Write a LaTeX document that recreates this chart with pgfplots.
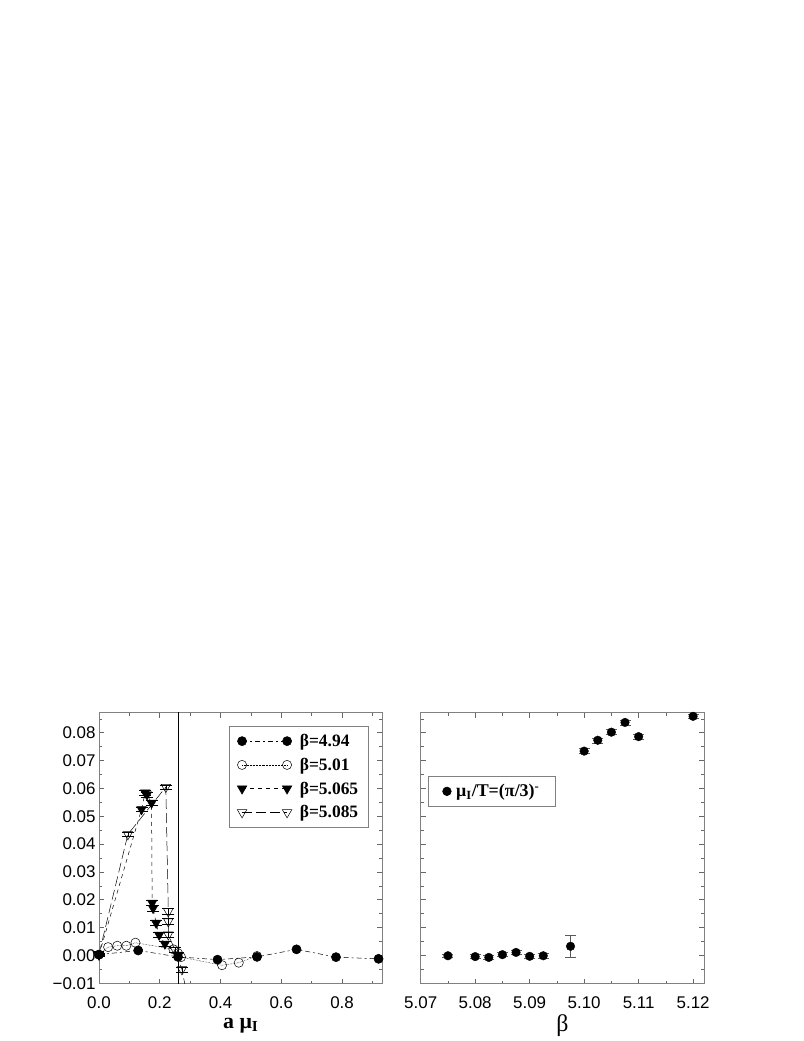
\documentclass[border=0pt]{standalone}
\usepackage{fontspec}
\setmainfont{Liberation Sans}
\newfontfamily\tms{Liberation Serif}
\usepackage{pgfplots}
\pgfplotsset{compat=1.18}
\pgfplotsset{
  mybase/.style={
    scale only axis, width=283.5bp, height=270.9bp,
    ymin=-0.0101, ymax=0.0872,
    ytick={-0.01,0,0.01,0.02,0.03,0.04,0.05,0.06,0.07,0.08},
    minor ytick={-0.005,0.005,0.015,0.025,0.035,0.045,0.055,0.065,0.075,0.085},
    tick align=inside, major tick length=5bp, minor tick length=3bp,
    axis line style={gray, line width=0.8pt},
    every tick/.style={gray!80!black, line width=0.6pt},
    every minor tick/.style={gray!80!black, line width=0.5pt},
    tick label style={font=\fontsize{17}{20}\selectfont},
    xticklabel style={yshift=-10bp},
    /pgf/number format/assume math mode=true,
    scaled ticks=false,
    clip=true,
  },
  legimg/.style={legend image code/.code={\draw[##1] plot coordinates {(0bp,0bp) (45bp,0bp)};}},
}
\begin{document}
\begin{tikzpicture}
\useasboundingbox (0,0) rectangle (804bp,1041bp);
\begin{axis}[mybase, at={(99bp,57.4bp)}, anchor=south west,
  xmin=0, xmax=0.933,
  xtick={0,0.2,0.4,0.6,0.8}, minor xtick={0.1,0.3,0.5,0.7,0.9},
  xticklabels={0.0,0.2,0.4,0.6,0.8},
  yticklabels={−0.01,0.00,0.01,0.02,0.03,0.04,0.05,0.06,0.07,0.08},
  xlabel={\tms\bfseries a μ\textsubscript{I}},
  xlabel style={at={(axis description cs:0.5,-0.155)}, anchor=center, font=\fontsize{22}{26}\selectfont},
  legend style={at={(0.4586,0.951)}, anchor=north west, draw=gray, line width=0.6pt,
    font=\tms\bfseries\fontsize{17.5}{20}\selectfont, row sep=6bp, inner xsep=8bp, inner ysep=6bp,
    /tikz/every odd column/.append style={column sep=6bp}},
  legend cell align=left, legimg,
  error bars/y dir=both, error bars/y explicit,
  error bars/error mark options={mark size=6bp, line width=0.5pt, rotate=90},
  error bars/error bar style={line width=0.5pt},
]
\addplot[black, line width=0.4pt, forget plot] coordinates {(0.2618,-0.02) (0.2618,0.1)};
% beta = 4.94
\addplot[black, line width=0.5pt, dash pattern=on 5bp off 3bp on 2bp off 3bp,
  mark=*, mark size=4.6bp, mark options={solid, fill=black}]
coordinates {
(0,0.0003)
(0.129,0.0018)
(0.26,-0.0005)
(0.39,-0.0015)
(0.52,-0.0005)
(0.65,0.0022)
(0.78,-0.0006)
(0.92,-0.0012)
};
\addlegendentry{β=4.94}
% beta = 5.01
\addplot[black, line width=0.5pt, densely dotted,
  mark=o, mark size=4.6bp, mark options={solid, fill=white}]
coordinates {
(0,0.0003)
(0.03,0.0030)
(0.06,0.0035)
(0.09,0.0035)
(0.12,0.0046)
(0.245,0.0022)
(0.26,0.0008)
(0.27,-0.0006)
(0.405,-0.0035)
(0.46,-0.0026)
(0.52,-0.0002)
};
\addlegendentry{β=5.01}
% beta = 5.065
\addplot[black, line width=0.5pt, dash pattern=on 4bp off 4bp,
  mark=triangle*, mark size=5.5bp, mark options={solid, fill=black, rotate=180}]
coordinates {
(0,0.0002) +- (0,0.0004)
(0.14,0.0525) +- (0,0.0008)
(0.152,0.0585) +- (0,0.0008)
(0.158,0.0578) +- (0,0.0008)
(0.173,0.0548) +- (0,0.0008)
(0.175,0.0189) +- (0,0.0010)
(0.178,0.0170) +- (0,0.0010)
(0.188,0.0117) +- (0,0.0009)
(0.198,0.0074) +- (0,0.0009)
(0.217,0.0042) +- (0,0.0009)
(0.26,0.0002) +- (0,0.0008)
};
\addlegendentry{β=5.065}
% beta = 5.085
\addplot[black, line width=0.5pt, dash pattern=on 10bp off 4bp,
  mark=triangle, mark size=5.5bp, mark options={solid, fill=white, rotate=180}]
coordinates {
(0,0.0005) +- (0,0.0004)
(0.095,0.0435) +- (0,0.0008)
(0.22,0.0605) +- (0,0.0008)
(0.228,0.0158) +- (0,0.0010)
(0.228,0.0122) +- (0,0.0010)
(0.228,0.0075) +- (0,0.0010)
(0.25,0.0020) +- (0,0.0009)
(0.273,-0.0050) +- (0,0.0009)
(0.30,-0.0200) +- (0,0.0010)
};
\addlegendentry{β=5.085}
\end{axis}

\begin{axis}[mybase, at={(420.7bp,57.4bp)}, anchor=south west,
  width=283.3bp,
  xmin=5.07, xmax=5.122,
  xtick={5.07,5.08,5.09,5.10,5.11,5.12}, minor xtick={5.075,5.085,5.095,5.105,5.115},
  xticklabels={5.07,5.08,5.09,5.10,5.11,5.12},
  yticklabels={},
  xlabel={\tms β},
  xlabel style={at={(axis description cs:0.5,-0.155)}, anchor=center, font=\fontsize{24}{28}\selectfont},
  legend style={at={(0.027,0.766)}, anchor=north west, draw=gray, line width=0.6pt,
    font=\tms\bfseries\fontsize{18}{21}\selectfont, inner xsep=14bp, inner ysep=6bp,
    /tikz/every odd column/.append style={column sep=3bp}},
  legend image code/.code={\draw[#1] plot coordinates {(5bp,0bp)};},
  error bars/y dir=both, error bars/y explicit,
  error bars/error mark options={mark size=5.5bp, line width=0.5pt, rotate=90, gray!70!black},
  error bars/error bar style={line width=0.5pt, gray!70!black},
]
\addplot[only marks, mark=*, mark size=4.3bp, mark options={fill=black}]
coordinates {
(5.075,-0.0001) +- (0,0.0007)
(5.080,-0.0004) +- (0,0.0007)
(5.0825,-0.0007) +- (0,0.0008)
(5.085,0.0003) +- (0,0.0007)
(5.0875,0.0011) +- (0,0.0007)
(5.090,-0.0003) +- (0,0.0008)
(5.0925,-0.0001) +- (0,0.0008)
(5.0975,0.0033) +- (0,0.0038)
(5.100,0.0734) +- (0,0.0009)
(5.1025,0.0773) +- (0,0.0009)
(5.105,0.0802) +- (0,0.0009)
(5.1075,0.0837) +- (0,0.0009)
(5.110,0.0786) +- (0,0.0008)
(5.120,0.0859) +- (0,0.0008)
};
\addlegendentry{μ\textsubscript{I}/T=(π/3)\textsuperscript{-}}
\end{axis}
\end{tikzpicture}
\end{document}
